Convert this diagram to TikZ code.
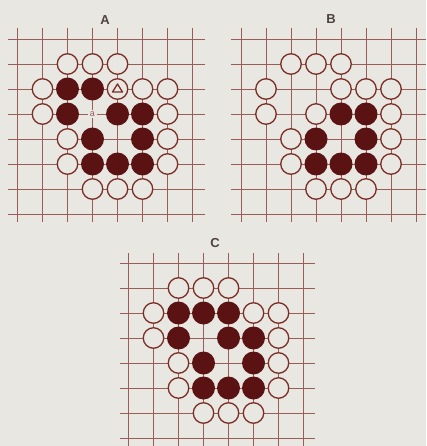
\documentclass[tikz,border=0pt]{standalone}
\usepackage{fontspec}
\setmainfont{Liberation Sans}
\definecolor{paper}{HTML}{E9E7E2}
\definecolor{gridc}{HTML}{9A5D55}
\definecolor{stonec}{HTML}{5A1212}
\definecolor{rimc}{HTML}{7A2E26}
\definecolor{labelc}{HTML}{4E4240}
\tikzset{
  gridline/.style={draw=gridc, line width=0.9pt},
  wst/.style={circle, draw=rimc, fill=paper, line width=1.3pt, minimum size=20.5pt, inner sep=0pt},
  bst/.style={circle, fill=stonec, minimum size=23pt, inner sep=0pt},
  boardlabel/.style={text=labelc, font=\bfseries\fontsize{13}{15}\selectfont, inner sep=0pt},
}
\begin{document}
\begin{tikzpicture}[x=1pt,y=-1pt]
\fill[paper] (0,0) rectangle (426,446);
\useasboundingbox (0,0) rectangle (426,446);

% Board A
\node[boardlabel] (labA) at (105,20) {A};
\begin{scope}[shift={(17.5,39)}]
  \foreach \j in {0,...,7} \draw[gridline] (-9.5,25*\j) -- (187.5,25*\j);
  \foreach \i in {0,...,7} \draw[gridline] (25*\i,-11) -- (25*\i,183);
  \foreach \c/\r in {2/1,3/1,4/1,1/2,4/2,5/2,6/2,1/3,6/3,2/4,6/4,2/5,6/5,3/6,4/6,5/6}
    \node[wst] (A-w-\c-\r) at (25*\c,25*\r) {};
  \foreach \c/\r in {2/2,3/2,2/3,4/3,5/3,3/4,5/4,3/5,4/5,5/5}
    \node[bst] (A-b-\c-\r) at (25*\c,25*\r) {};
  \draw[rimc, line width=1.3pt, line join=round] (100,45) -- (105,53) -- (95,53) -- cycle;
  \node[fill=paper, text=gridc, inner sep=1.5pt, font=\fontsize{9}{10}\selectfont] (A-a) at (75,75) {a};
\end{scope}

% Board B
\node[boardlabel] (labB) at (331,19) {B};
\begin{scope}[shift={(241,39)}]
  \foreach \j in {0,...,7} \draw[gridline] (-10,25*\j) -- (185,25*\j);
  \foreach \i in {0,...,7} \draw[gridline] (25*\i,-11) -- (25*\i,183);
  \foreach \c/\r in {2/1,3/1,4/1,1/2,4/2,5/2,6/2,1/3,3/3,6/3,2/4,6/4,2/5,6/5,3/6,4/6,5/6}
    \node[wst] (B-w-\c-\r) at (25*\c,25*\r) {};
  \foreach \c/\r in {4/3,5/3,3/4,5/4,3/5,4/5,5/5}
    \node[bst] (B-b-\c-\r) at (25*\c,25*\r) {};
\end{scope}

% Board C
\node[boardlabel] (labC) at (215,243) {C};
\begin{scope}[shift={(128.5,263)}]
  \foreach \j in {0,...,7} \draw[gridline] (-8.5,25*\j) -- (186,25*\j);
  \foreach \i in {0,...,7} \draw[gridline] (25*\i,-10) -- (25*\i,183);
  \foreach \c/\r in {2/1,3/1,4/1,1/2,5/2,6/2,1/3,6/3,2/4,6/4,2/5,6/5,3/6,4/6,5/6}
    \node[wst] (C-w-\c-\r) at (25*\c,25*\r) {};
  \foreach \c/\r in {2/2,3/2,4/2,2/3,4/3,5/3,3/4,5/4,3/5,4/5,5/5}
    \node[bst] (C-b-\c-\r) at (25*\c,25*\r) {};
\end{scope}
\end{tikzpicture}
\end{document}
